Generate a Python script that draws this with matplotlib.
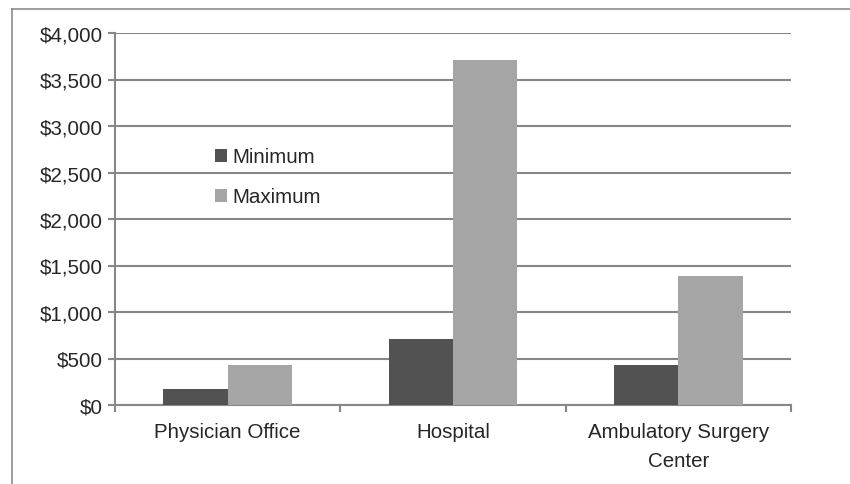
import matplotlib
matplotlib.use("Agg")
import matplotlib.pyplot as plt
from matplotlib.lines import Line2D
from matplotlib.ticker import FuncFormatter, FixedLocator
import numpy as np

plt.rcParams['font.family'] = ['Liberation Sans', 'DejaVu Sans']

# Cost ranges by site of service
sites = ['Physician Office', 'Hospital', 'Ambulatory Surgery\nCenter']
minimum = [170, 710, 435]
maximum = [430, 3710, 1390]

dark = '#525252'
light = '#a5a5a5'
grid_col = '#878787'
text_col = '#262626'
fs = 14.8

fig = plt.figure(figsize=(8.5, 4.85), dpi=100)
ax = fig.add_axes([115 / 850, 79 / 485, 676 / 850, 372 / 485])

x = np.arange(len(sites))
w = 0.2857
ax.bar(x - w / 2, minimum, w, color=dark, label='Minimum', zorder=3)
ax.bar(x + w / 2, maximum, w, color=light, label='Maximum', zorder=3)

ax.set_xlim(-0.5, len(sites) - 0.5)
ax.set_ylim(0, 4000)
ax.set_yticks(np.arange(0, 4001, 500))
ax.yaxis.set_major_formatter(FuncFormatter(lambda v, p: f'${v:,.0f}'))
ax.grid(axis='y', color=grid_col, linewidth=1.5, zorder=0)

ax.set_xticks(x)
ax.set_xticklabels(sites, linespacing=1.7)
ax.xaxis.set_minor_locator(FixedLocator(np.arange(-0.5, len(sites), 1)))
ax.tick_params(axis='x', which='major', length=0, pad=12)
ax.tick_params(axis='x', which='minor', length=5, width=1.5, color=grid_col)
ax.tick_params(axis='y', length=5, width=1.5, color=grid_col, pad=4)
ax.tick_params(labelsize=fs, labelcolor=text_col)

for side in ['top', 'right']:
    ax.spines[side].set_visible(False)
for side in ['left', 'bottom']:
    ax.spines[side].set_color(grid_col)
    ax.spines[side].set_linewidth(1.5)

ax.legend(loc='upper left', bbox_to_anchor=(0.12, 0.742), frameon=False,
          fontsize=fs, handlelength=0.6, handleheight=0.6,
          handletextpad=0.25, labelspacing=1.02, labelcolor=text_col)

# outer frame around the chart area
fig.add_artist(Line2D([12 / 850, 12 / 850], [0, 1 - 10 / 485],
                      transform=fig.transFigure, color='#8c8c8c', lw=1.2))
fig.add_artist(Line2D([12 / 850, 1], [1 - 10 / 485, 1 - 10 / 485],
                      transform=fig.transFigure, color='#8c8c8c', lw=1.2))

fig.savefig('out.png', dpi=100)
